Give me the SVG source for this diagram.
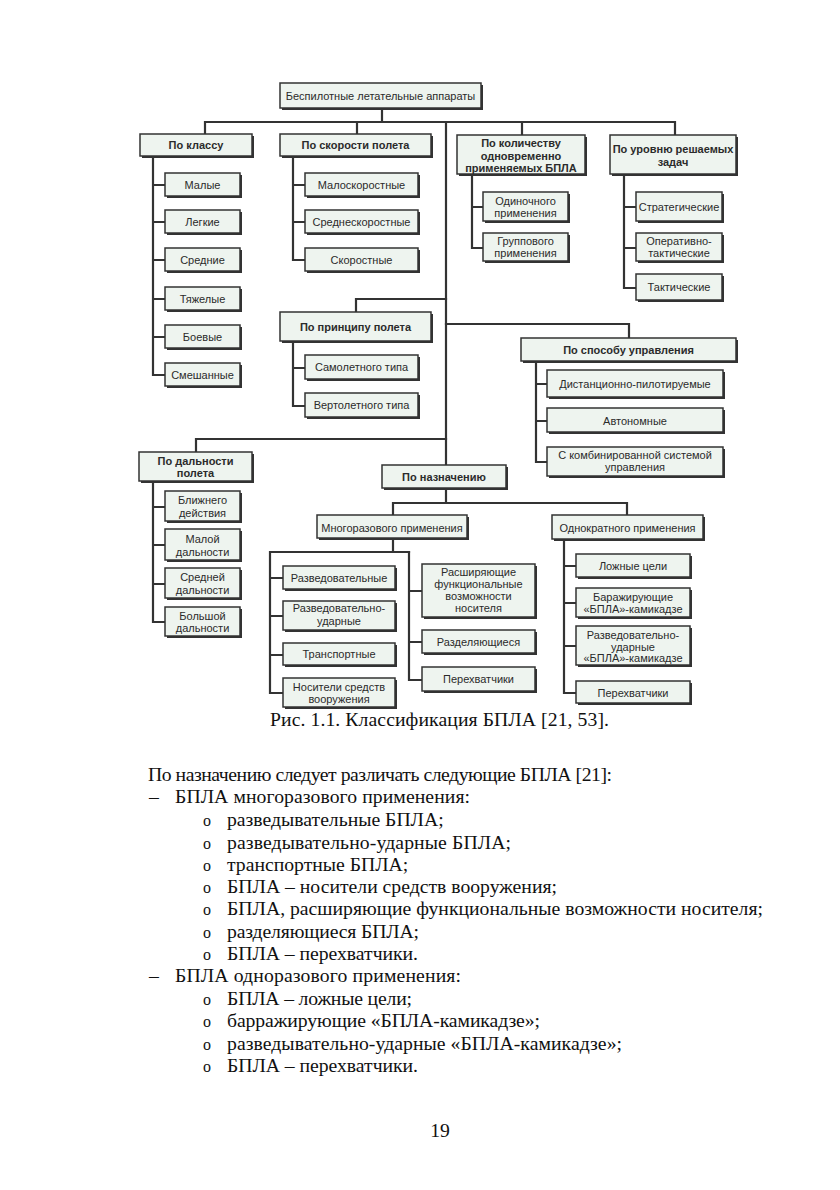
<svg xmlns="http://www.w3.org/2000/svg" width="840" height="1190" viewBox="0 0 840 1190">
<style>
  .sh { fill: #333; }
  .bx { fill: #eef4ef; stroke: #333; stroke-width: 1.5; }
  .t { font-family: "Liberation Sans", Arial, sans-serif; font-size: 11px; fill: #2b2b2b; text-anchor: middle; }
  .h { font-weight: bold; }
  .w { stroke: #333; stroke-width: 2.2; fill: none; stroke-linecap: square; }
  .p { font-family: "Liberation Serif", "Times New Roman", serif; font-size: 19.7px; fill: #111; }
  .b { font-family: "Liberation Serif", "Times New Roman", serif; font-size: 16px; fill: #111; }
</style>
<rect width="840" height="1190" fill="#fff"/>

<!-- connectors -->
<g id="connectors" class="w">
  <path d="M382 110 V122 M205 122 H675 M205 122 V134 M357 122 V134 M522 122 V135 M675 122 V135 M446 122 V465"/>
  <path d="M153 158 V375 M153 185 H165 M153 222 H165 M153 260 H165 M153 299 H165 M153 337 H165 M153 375 H165"/>
  <path d="M293 158 V260 M293 185 H305 M293 222 H305 M293 260 H305"/>
  <path d="M472 176 V248 M472 207 H483 M472 248 H483"/>
  <path d="M624 176 V288 M624 207 H636 M624 248 H636 M624 288 H636"/>
  <path d="M446 299 H356 V312 M293 343 V406 M293 368 H305 M293 406 H305"/>
  <path d="M446 324 H629 V338 M536 363 V462 M536 384 H547 M536 421 H547 M536 462 H547"/>
  <path d="M446 439 H196 V452 M153 483 V622 M153 507 H165 M153 545 H165 M153 584 H165 M153 622 H165"/>
  <path d="M446 490 V503 M393 503 H627 M393 503 V515 M627 503 V515"/>
  <path d="M393 540 V552 M270 552 H409 M270 552 V693 M270 578 H283 M270 616 H283 M270 655 H283 M270 693 H283"/>
  <path d="M409 552 V680 M409 591 H422 M409 642 H422 M409 680 H422"/>
  <path d="M564 541 V693 M564 566 H576 M564 603 H576 M564 646 H576 M564 693 H576"/>
</g>

<!-- root -->
<g id="n-root"><rect class="sh" x="282" y="85" width="201" height="25"/><rect class="bx" x="280" y="83" width="201" height="25"/>
  <text class="t" x="380.5" y="99.5">Беспилотные летательные аппараты</text></g>

<!-- by class -->
<g id="n-class"><rect class="sh" x="142" y="136" width="112" height="22"/><rect class="bx" x="140" y="134" width="112" height="22"/>
  <text class="t h" x="196" y="149">По классу</text></g>
<g id="n-class-1"><rect class="sh" x="167" y="175" width="75" height="23"/><rect class="bx" x="165" y="173" width="75" height="23"/><text class="t" x="202.5" y="189">Малые</text></g>
<g id="n-class-2"><rect class="sh" x="167" y="212" width="75" height="23"/><rect class="bx" x="165" y="210" width="75" height="23"/><text class="t" x="202.5" y="226">Легкие</text></g>
<g id="n-class-3"><rect class="sh" x="167" y="250" width="75" height="23"/><rect class="bx" x="165" y="248" width="75" height="23"/><text class="t" x="202.5" y="264">Средние</text></g>
<g id="n-class-4"><rect class="sh" x="167" y="289" width="75" height="23"/><rect class="bx" x="165" y="287" width="75" height="23"/><text class="t" x="202.5" y="303">Тяжелые</text></g>
<g id="n-class-5"><rect class="sh" x="167" y="327" width="75" height="23"/><rect class="bx" x="165" y="325" width="75" height="23"/><text class="t" x="202.5" y="341">Боевые</text></g>
<g id="n-class-6"><rect class="sh" x="167" y="365" width="75" height="23"/><rect class="bx" x="165" y="363" width="75" height="23"/><text class="t" x="202.5" y="379">Смешанные</text></g>

<!-- by speed -->
<g id="n-speed"><rect class="sh" x="282" y="136" width="151" height="22"/><rect class="bx" x="280" y="134" width="151" height="22"/>
  <text class="t h" x="355.5" y="149">По скорости полета</text></g>
<g id="n-speed-1"><rect class="sh" x="307" y="175" width="113" height="23"/><rect class="bx" x="305" y="173" width="113" height="23"/><text class="t" x="361.5" y="189">Малоскоростные</text></g>
<g id="n-speed-2"><rect class="sh" x="307" y="212" width="113" height="23"/><rect class="bx" x="305" y="210" width="113" height="23"/><text class="t" x="361.5" y="226">Среднескоростные</text></g>
<g id="n-speed-3"><rect class="sh" x="307" y="250" width="113" height="23"/><rect class="bx" x="305" y="248" width="113" height="23"/><text class="t" x="361.5" y="264">Скоростные</text></g>

<!-- by count -->
<g id="n-count"><rect class="sh" x="459" y="137" width="128" height="39"/><rect class="bx" x="457" y="135" width="128" height="39"/>
  <text class="t h" x="521" y="147" font-size="10.6">По количеству</text><text class="t h" x="521" y="159.5" font-size="10.6">одновременно</text><text class="t h" x="521" y="172" font-size="10.6">применяемых БПЛА</text></g>
<g id="n-count-1"><rect class="sh" x="485" y="194" width="85" height="29"/><rect class="bx" x="483" y="192" width="85" height="29"/>
  <text class="t" x="525.5" y="204.5">Одиночного</text><text class="t" x="525.5" y="216.5">применения</text></g>
<g id="n-count-2"><rect class="sh" x="485" y="235" width="85" height="28"/><rect class="bx" x="483" y="233" width="85" height="28"/>
  <text class="t" x="525.5" y="244.5">Группового</text><text class="t" x="525.5" y="256.5">применения</text></g>

<!-- by task level -->
<g id="n-level"><rect class="sh" x="612" y="137" width="126" height="39"/><rect class="bx" x="610" y="135" width="126" height="39"/>
  <text class="t h" x="673" y="153" font-size="10.6">По уровню решаемых</text><text class="t h" x="673" y="166" font-size="10.6">задач</text></g>
<g id="n-level-1"><rect class="sh" x="638" y="194" width="86" height="29"/><rect class="bx" x="636" y="192" width="86" height="29"/><text class="t" x="679" y="211">Стратегические</text></g>
<g id="n-level-2"><rect class="sh" x="638" y="235" width="86" height="28"/><rect class="bx" x="636" y="233" width="86" height="28"/>
  <text class="t" x="679" y="244.5">Оперативно-</text><text class="t" x="679" y="256.5">тактические</text></g>
<g id="n-level-3"><rect class="sh" x="638" y="276" width="86" height="26"/><rect class="bx" x="636" y="274" width="86" height="26"/><text class="t" x="679" y="291">Тактические</text></g>

<!-- by flight principle -->
<g id="n-principle"><rect class="sh" x="282" y="314" width="151" height="29"/><rect class="bx" x="280" y="312" width="151" height="29"/>
  <text class="t h" x="355.5" y="331">По принципу полета</text></g>
<g id="n-principle-1"><rect class="sh" x="307" y="357" width="113" height="24"/><rect class="bx" x="305" y="355" width="113" height="24"/><text class="t" x="361.5" y="371">Самолетного типа</text></g>
<g id="n-principle-2"><rect class="sh" x="307" y="395" width="113" height="24"/><rect class="bx" x="305" y="393" width="113" height="24"/><text class="t" x="361.5" y="409">Вертолетного типа</text></g>

<!-- by control -->
<g id="n-control"><rect class="sh" x="523" y="340" width="215" height="23"/><rect class="bx" x="521" y="338" width="215" height="23"/>
  <text class="t h" x="628.5" y="354">По способу управления</text></g>
<g id="n-control-1"><rect class="sh" x="549" y="372" width="176" height="27"/><rect class="bx" x="547" y="370" width="176" height="27"/><text class="t" x="635" y="387.5">Дистанционно-пилотируемые</text></g>
<g id="n-control-2"><rect class="sh" x="549" y="410" width="176" height="24"/><rect class="bx" x="547" y="408" width="176" height="24"/><text class="t" x="635" y="425">Автономные</text></g>
<g id="n-control-3"><rect class="sh" x="549" y="449" width="176" height="29"/><rect class="bx" x="547" y="447" width="176" height="29"/>
  <text class="t" x="635" y="458.5">С комбинированной системой</text><text class="t" x="635" y="471">управления</text></g>

<!-- by range -->
<g id="n-range"><rect class="sh" x="141" y="454" width="113" height="29"/><rect class="bx" x="139" y="452" width="113" height="29"/>
  <text class="t h" x="195.5" y="464.5">По дальности</text><text class="t h" x="195.5" y="476.5">полета</text></g>
<g id="n-range-1"><rect class="sh" x="167" y="493" width="75" height="30"/><rect class="bx" x="165" y="491" width="75" height="30"/>
  <text class="t" x="202.5" y="504">Ближнего</text><text class="t" x="202.5" y="517">действия</text></g>
<g id="n-range-2"><rect class="sh" x="167" y="531" width="75" height="31"/><rect class="bx" x="165" y="529" width="75" height="31"/>
  <text class="t" x="202.5" y="542.5">Малой</text><text class="t" x="202.5" y="555.5">дальности</text></g>
<g id="n-range-3"><rect class="sh" x="167" y="570" width="75" height="30"/><rect class="bx" x="165" y="568" width="75" height="30"/>
  <text class="t" x="202.5" y="581">Средней</text><text class="t" x="202.5" y="594">дальности</text></g>
<g id="n-range-4"><rect class="sh" x="167" y="609" width="75" height="29"/><rect class="bx" x="165" y="607" width="75" height="29"/>
  <text class="t" x="202.5" y="619.5">Большой</text><text class="t" x="202.5" y="632">дальности</text></g>

<!-- by purpose -->
<g id="n-purpose"><rect class="sh" x="384" y="467" width="124" height="23"/><rect class="bx" x="382" y="465" width="124" height="23"/>
  <text class="t h" x="444" y="481">По назначению</text></g>
<g id="n-reusable"><rect class="sh" x="319" y="517" width="150" height="23"/><rect class="bx" x="317" y="515" width="150" height="23"/>
  <text class="t" x="392" y="531.5">Многоразового применения</text></g>
<g id="n-single"><rect class="sh" x="554" y="517" width="151" height="24"/><rect class="bx" x="552" y="515" width="151" height="24"/>
  <text class="t" x="627.5" y="531.5">Однократного применения</text></g>

<g id="n-reusable-1"><rect class="sh" x="285" y="568" width="112" height="23"/><rect class="bx" x="283" y="566" width="112" height="23"/><text class="t" x="339" y="582">Разведовательные</text></g>
<g id="n-reusable-2"><rect class="sh" x="285" y="603" width="112" height="29"/><rect class="bx" x="283" y="601" width="112" height="29"/>
  <text class="t" x="339" y="612">Разведовательно-</text><text class="t" x="339" y="625">ударные</text></g>
<g id="n-reusable-3"><rect class="sh" x="285" y="645" width="112" height="22"/><rect class="bx" x="283" y="643" width="112" height="22"/><text class="t" x="339" y="658">Транспортные</text></g>
<g id="n-reusable-4"><rect class="sh" x="285" y="680" width="112" height="29"/><rect class="bx" x="283" y="678" width="112" height="29"/>
  <text class="t" x="339" y="690.5">Носители средств</text><text class="t" x="339" y="702.5">вооружения</text></g>
<g id="n-reusable-5"><rect class="sh" x="424" y="566" width="113" height="53"/><rect class="bx" x="422" y="564" width="113" height="53"/>
  <text class="t" x="478.5" y="576">Расширяющие</text><text class="t" x="478.5" y="588">функциональные</text><text class="t" x="478.5" y="600">возможности</text><text class="t" x="478.5" y="612">носителя</text></g>
<g id="n-reusable-6"><rect class="sh" x="424" y="632" width="113" height="23"/><rect class="bx" x="422" y="630" width="113" height="23"/><text class="t" x="478.5" y="645.5">Разделяющиеся</text></g>
<g id="n-reusable-7"><rect class="sh" x="424" y="669" width="113" height="24"/><rect class="bx" x="422" y="667" width="113" height="24"/><text class="t" x="478.5" y="683">Перехватчики</text></g>

<g id="n-single-1"><rect class="sh" x="578" y="556" width="114" height="23"/><rect class="bx" x="576" y="554" width="114" height="23"/><text class="t" x="633" y="569.5">Ложные цели</text></g>
<g id="n-single-2"><rect class="sh" x="578" y="590" width="114" height="29"/><rect class="bx" x="576" y="588" width="114" height="29"/>
  <text class="t" x="633" y="601">Баражирующие</text><text class="t" x="633" y="613">«БПЛА»-камикадзе</text></g>
<g id="n-single-3"><rect class="sh" x="578" y="628" width="114" height="39"/><rect class="bx" x="576" y="626" width="114" height="39"/>
  <text class="t" x="633" y="638.5">Разведовательно-</text><text class="t" x="633" y="650.5">ударные</text><text class="t" x="633" y="662">«БПЛА»-камикадзе</text></g>
<g id="n-single-4"><rect class="sh" x="578" y="683" width="114" height="22"/><rect class="bx" x="576" y="681" width="114" height="22"/><text class="t" x="633" y="696.5">Перехватчики</text></g>

<!-- caption and body text -->
<text class="p" x="270" y="726" textLength="339" lengthAdjust="spacing">Рис. 1.1. Классификация БПЛА [21, 53].</text>
<text class="p" x="148" y="781" textLength="464" lengthAdjust="spacing">По назначению следует различать следующие БПЛА [21]:</text>
<text class="p" x="149" y="803">–</text><text class="p" x="175" y="803" textLength="295" lengthAdjust="spacing">БПЛА многоразового применения:</text>
<g class="b">
  <text x="203" y="826">o</text><text x="203" y="849">o</text><text x="203" y="871">o</text><text x="203" y="893">o</text>
  <text x="203" y="915">o</text><text x="203" y="938">o</text><text x="203" y="960">o</text>
  <text x="203" y="1005">o</text><text x="203" y="1027">o</text><text x="203" y="1050">o</text><text x="203" y="1072">o</text>
</g>
<g class="p">
  <text x="227" y="826">разведывательные БПЛА;</text>
  <text x="227" y="849" textLength="284" lengthAdjust="spacing">разведывательно-ударные БПЛА;</text>
  <text x="227" y="871">транспортные БПЛА;</text>
  <text x="227" y="893" textLength="330" lengthAdjust="spacing">БПЛА – носители средств вооружения;</text>
  <text x="227" y="915" textLength="536" lengthAdjust="spacing">БПЛА, расширяющие функциональные возможности носителя;</text>
  <text x="227" y="938" textLength="192" lengthAdjust="spacing">разделяющиеся БПЛА;</text>
  <text x="227" y="960" textLength="191" lengthAdjust="spacing">БПЛА – перехватчики.</text>
</g>
<text class="p" x="149" y="982">–</text><text class="p" x="175" y="982" textLength="286" lengthAdjust="spacing">БПЛА одноразового применения:</text>
<g class="p">
  <text x="227" y="1005" textLength="185" lengthAdjust="spacing">БПЛА – ложные цели;</text>
  <text x="227" y="1027" textLength="313" lengthAdjust="spacing">барражирующие «БПЛА-камикадзе»;</text>
  <text x="227" y="1050" textLength="395" lengthAdjust="spacing">разведывательно-ударные «БПЛА-камикадзе»;</text>
  <text x="227" y="1072" textLength="191" lengthAdjust="spacing">БПЛА – перехватчики.</text>
</g>
<text class="p" x="440" y="1137" text-anchor="middle" font-size="17">19</text>
</svg>
